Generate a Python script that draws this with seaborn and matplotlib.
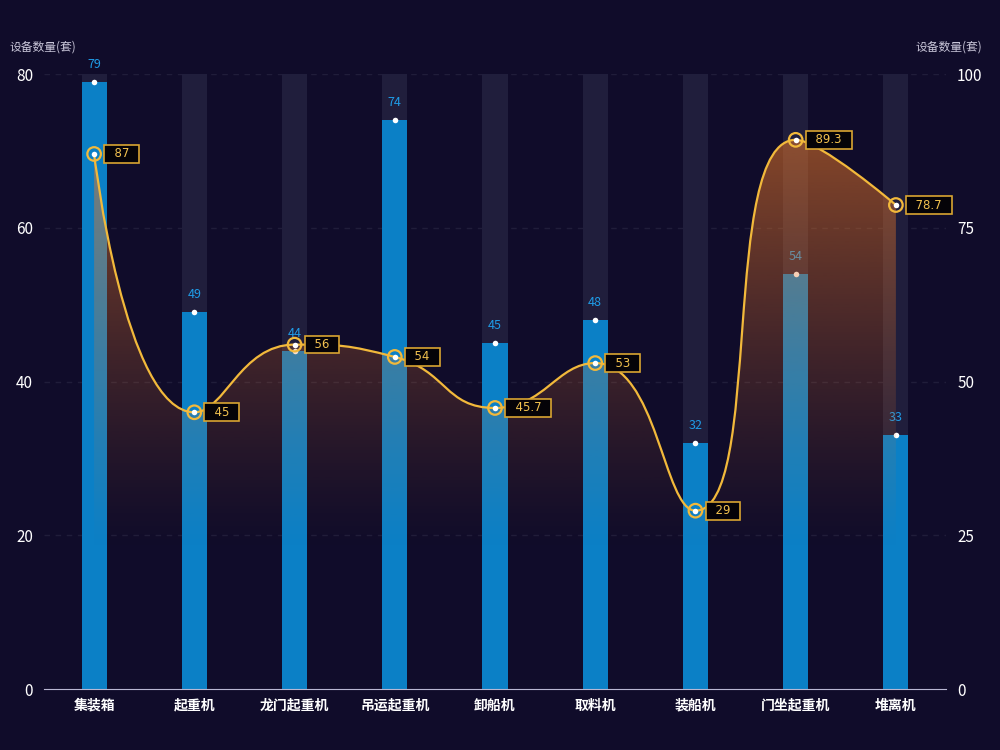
import numpy as np
import matplotlib
matplotlib.use("Agg")
import matplotlib.pyplot as plt
from matplotlib.path import Path
from matplotlib.patches import PathPatch
import seaborn as sns

categories = ["集装箱", "起重机", "龙门起重机", "吊运起重机", "卸船机", "取料机", "装船机", "门坐起重机", "堆离机"]
counts = [79, 49, 44, 74, 45, 48, 32, 54, 33]
rates = [87, 45, 56, 54, 45.7, 53, 29, 89.3, 78.7]
bg_max = [80] * len(categories)
left_ticks = [0, 20, 40, 60, 80]
right_ticks = [0, 25, 50, 75, 100]

BG = "#100c2a"
BAR = "#0b80c6"
SHADOW = "#201e3c"
LINE = "#f2b93b"
LABEL_BLUE = "#1f9be6"

sns.set_style("dark")
plt.rcParams["font.family"] = ["Noto Sans CJK SC", "DejaVu Sans"]

fig = plt.figure(figsize=(10, 7.5), dpi=100, facecolor=BG)
ax = fig.add_axes([0.044, 0.0813, 0.902, 0.82])
ax.set_facecolor(BG)

sns.barplot(x=categories, y=bg_max, color=SHADOW, saturation=1, width=0.25, ax=ax,
            zorder=1, linewidth=0)
sns.barplot(x=categories, y=counts, color=BAR, saturation=1, width=0.25, ax=ax,
            zorder=2, linewidth=0)
ax.set_xlim(-0.5, len(categories) - 0.5)
ax.set_ylim(0, 80)
ax.set_yticks(left_ticks)
ax.set_ylabel("")
ax.set_xlabel("")
for s in ["left", "right", "top"]:
    ax.spines[s].set_visible(False)
ax.spines["bottom"].set_color("#b9b7d3")
ax.grid(False)
for t in left_ticks[1:]:
    ax.axhline(t, color="#201d3a", lw=1, ls=(0, (4, 4)), zorder=0)
ax.tick_params(axis="y", length=0, colors="white", labelsize=11, pad=8)
ax.tick_params(axis="x", length=5, color="#b9b7d3", colors="white", labelsize=10, pad=2)
for lab in ax.get_xticklabels():
    lab.set_fontweight("bold")

pos = np.arange(len(categories))
ax.scatter(pos, counts, s=16, color="white", zorder=5, linewidths=0)
for i, v in enumerate(counts):
    ax.annotate(str(v), (i, v), xytext=(0, 8), textcoords="offset points",
                ha="center", va="bottom", color=LABEL_BLUE, fontsize=9, zorder=6)

ax2 = ax.twinx()
ax2.set_ylim(0, 100)
ax2.set_yticks(right_ticks)
ax2.grid(False)
for s in ["left", "right", "top", "bottom"]:
    ax2.spines[s].set_visible(False)
ax2.tick_params(axis="y", length=0, colors="white", labelsize=11, pad=8)

# echarts-style smooth bezier path, computed in pixel space
fig.canvas.draw()
pix = ax2.transData.transform(np.column_stack([pos, rates]))
smooth = 0.5
verts = [tuple(pix[0])]
codes = [Path.MOVETO]
cp0 = pix[0].copy()
n = len(pix)
for k in range(1, n):
    x, y = pix[k]
    px, py = pix[k - 1]
    if k == n - 1:
        cp1 = np.array([x, y])
        ncp0 = None
    else:
        nx, ny = pix[k + 1]
        vx, vy = nx - px, ny - py
        lp = np.hypot(x - px, y - py)
        ln = np.hypot(nx - x, ny - y)
        r = ln / (ln + lp)
        ncx = x + vx * smooth * r
        ncy = y + vy * smooth * r
        ncx = min(ncx, max(nx, x)); ncx = max(ncx, min(nx, x))
        ncy = min(ncy, max(ny, y)); ncy = max(ncy, min(ny, y))
        vx, vy = ncx - x, ncy - y
        c1x = x - vx * lp / ln
        c1y = y - vy * lp / ln
        c1x = min(c1x, max(px, x)); c1x = max(c1x, min(px, x))
        c1y = min(c1y, max(py, y)); c1y = max(c1y, min(py, y))
        vx, vy = x - c1x, y - c1y
        ncp0 = np.array([x + vx * ln / lp, y + vy * ln / lp])
        cp1 = np.array([c1x, c1y])
    verts += [tuple(cp0), tuple(cp1), (x, y)]
    codes += [Path.CURVE4] * 3
    cp0 = ncp0

inv = ax2.transData.inverted()
data_verts = inv.transform(np.array(verts))
line_path = Path(data_verts, codes)
fill_verts = np.vstack([data_verts, [[pos[-1], 0], [pos[0], 0], data_verts[0]]])
fill_codes = codes + [Path.LINETO, Path.LINETO, Path.CLOSEPOLY]
fill_path = Path(fill_verts, fill_codes)

top = max(rates)
h = np.linspace(1, 0, 256)
grad = np.zeros((256, 1, 4))
grad[:, 0, 0] = 230 / 255
grad[:, 0, 1] = 118 / 255
grad[:, 0, 2] = 40 / 255
grad[:, 0, 3] = 0.55 * np.clip((h - 0.25) / 0.75, 0, 1) ** 1.2
img = ax2.imshow(grad, extent=[pos[0], pos[-1], 0, top], aspect="auto", origin="upper", zorder=1)
clip = PathPatch(fill_path, transform=ax2.transData, facecolor="none", edgecolor="none")
ax2.add_patch(clip)
img.set_clip_path(clip)
ax2.add_patch(PathPatch(line_path, facecolor="none", edgecolor=LINE, lw=1.6, zorder=3))
ax2.set_xlim(-0.5, len(categories) - 0.5)
ax2.set_ylim(0, 100)

sns.scatterplot(x=pos, y=rates, ax=ax2, s=95, facecolor="none", edgecolor=LINE, linewidth=1.6, zorder=4)
sns.scatterplot(x=pos, y=rates, ax=ax2, s=16, color="white", linewidth=0, zorder=5)
ax2.set_xlabel("")
ax2.set_ylabel("")
for i, v in enumerate(rates):
    ax2.annotate(f"  {v:g}  ", (i, v), xytext=(9, 0), textcoords="offset points",
                 ha="left", va="center", color="#f3c24f", fontsize=8.5, zorder=6,
                 family="DejaVu Sans",
                 bbox=dict(boxstyle="square,pad=0.2", fc="#050308", ec="#d9a531", lw=1.2))

fig.text(0.010, 1 - 47 / 750, "设备数量(套)", color="#c9c6d9", fontsize=8.5, ha="left", va="center")
fig.text(0.982, 1 - 47 / 750, "设备数量(套)", color="#c9c6d9", fontsize=8.5, ha="right", va="center")

fig.savefig("out.png", dpi=100, facecolor=BG)
